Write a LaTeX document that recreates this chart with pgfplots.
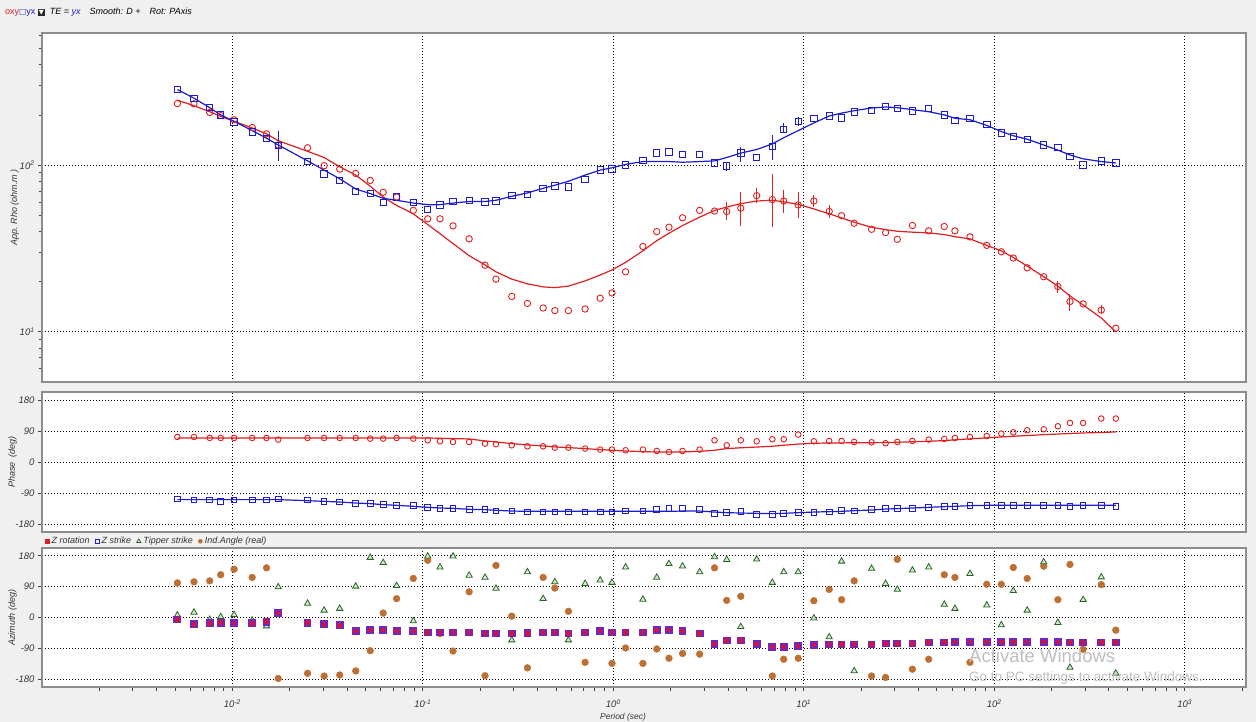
\documentclass[border=0pt]{standalone}
\usepackage{fontspec}
\setmainfont{Liberation Sans}
\newfontfamily\symfont{DejaVu Sans}
\usepackage{pgfplots}
\usepackage{pgfplotstable}
\pgfplotsset{compat=1.18}

\definecolor{xyred}{RGB}{222,32,32}
\definecolor{yxblue}{RGB}{28,28,205}
\definecolor{indbrown}{RGB}{188,112,52}
\definecolor{tipgreen}{RGB}{40,100,40}
\definecolor{tipfill}{RGB}{215,232,210}
\definecolor{zfill}{RGB}{205,20,70}
\definecolor{zedge}{RGB}{105,40,200}
\definecolor{panelgray}{RGB}{240,240,240}
\definecolor{framegray}{RGB}{140,140,140}
\definecolor{wmgray}{RGB}{190,190,190}

% MT sounding: period, app. resistivity (data/model), phase (data/model), azimuths
\pgfplotstableread{
T        rxy   ryx   mxy   myx   pxy    pyx     mpxy  mpyx    zrot tip  ind
5.14e-3  234   284   245   284   72.6   -107.4  69.7  -109.2  -6   7    101
6.28e-3  233   252   227   252   72.6   -110.3  69.7  -109.2  -20  15   104
7.60e-3  207   221   209   221   69.7   -110.3  69.7  -109.2  -17  -6   107
8.68e-3  198   200   196   200   69.7   -114.1  69.7  -109.2  -15  2    125
1.02e-2  187   181   183   183   69.7   -110.3  69.7  -109.2  -16  8    141
1.27e-2  168   158   167   161   69.7   -110.3  69.7  -109.2  -17  -8   117
1.51e-2  154   144   154   145   69.7   -110.3  69.7  -109.2  -12  -25  145
1.74e-2  132   131   140   132   64.9   -107.4  69.7  -109.2  13   89   -178
2.48e-2  127   105   121   106   69.7   -110.3  69.7  -112.2  -15  41   -163
3.03e-2  99.1  88.3  111   93.3  69.7   -114.1  69.7  -114.1  -20  21   -171
3.66e-2  94.6  80.9  97.7  82.7  69.7   -116.1  69.7  -116.1  -23  26   -168
4.44e-2  89.1  69.7  87.1  71.9  69.7   -119.9  69.7  -119.0  -39  91   -156
5.29e-2  80.9  67.8  74.7  67.5  67.8   -119.9  69.7  -120.8  -36  175  -97
6.19e-2  68.7  59.6  64.3  63.2  67.8   -122.8  69.7  -123.7  -36  160  13
7.28e-2  64.3  64.3  57.3  61.5  69.7   -125.7  69.7  -125.7  -39  93   55
8.91e-2  53.5  59.6  51.0  59.2  67.8   -125.7  69.7  -128.6  -40  -10  114
0.106    47.6  54.2  44.0  57.9  63.0   -132.4  69.7  -131.5  -44  179  167
0.123    47.6  57.6  38.8  57.9  60.1   -134.4  68.7  -133.5  -44  147  -47
0.144    43.2  60.4  33.8  59.2  58.1   -135.3  67.8  -134.4  -44  179  -98
0.175    36.1  61.2  28.6  60.5  58.1   -138.2  66.8  -137.3  -44  123  75
0.212    25.1  60.0  25.2  60.5  53.4   -138.2  61.0  -138.2  -47  117  -170
0.242    20.7  60.8  22.9  61.5  51.4   -142.2  58.1  -140.2  -47  85   152
0.293    16.3  65.9  20.7  65.0  48.5   -142.2  53.4  -142.2  -47  -66  4
0.354    14.8  66.6  19.4  68.1  45.6   -145.2  49.5  -143.1  -46  133  -147
0.428    13.9  72.6  18.6  72.6  45.6   -145.2  46.6  -143.1  -44  55   117
0.493    13.4  75.0  18.4  75.7  41.7   -145.2  43.7  -143.1  -44  104  86
0.581    13.4  74.0  18.8  80.0  41.7   -145.2  41.7  -143.1  -47  -66  18
0.711    13.7  82.3  20.2  87.1  38.9   -145.2  38.9  -143.1  -44  99   -131
0.853    15.9  93.3  21.9  93.3  36.0   -145.2  36.0  -143.1  -40  109  -40
0.984    17.1  94.6  23.5  96.3  36.0   -145.2  34.0  -143.1  -44  102  -134
1.16     22.9  100   26.1  101   34.0   -142.2  31.9  -143.1  -44  147  -89
1.43     32.5  107   30.6  105   36.0   -142.2  30.0  -143.1  -44  53   -134
1.69     39.9  118   35.2  105   31.9   -138.2  29.0  -143.1  -37  117  -92
1.96     42.4  120   39.0  105   29.0   -135.3  29.0  -143.1  -37  157  -119
2.31     48.3  116   43.4  104   31.9   -135.3  29.0  -142.2  -40  150  -105
2.84     53.5  116   48.7  105   36.0   -138.2  31.0  -142.2  -47  133  -107
3.40     53.0  103   53.5  106   63.0   -149.8  34.0  -145.2  -77  177  145
3.94     52.7  98.6  56.0  111   48.5   -146.9  38.9  -146.9  -67  169  50
4.67     55.2  118   58.7  118   63.0   -143.1  41.2  -148.0  -67  -27  62
5.66     65.6  111   60.9  124   60.1   -152.7  43.3  -148.9  -77  170  -77
6.84     62.1  129   61.5  134   65.9   -151.8  45.6  -149.8  -86  102  -171
7.85     60.9  163   60.2  146   65.9   -149.8  48.5  -148.9  -86  133  -122
9.35     57.7  183   58.1  161   79.5   -146.9  52.0  -146.9  -83  133  -119
11.3     60.9  191   54.6  179   60.1   -146.9  54.3  -145.2  -80  -2   49
13.6     52.7  197   51.0  197   61.0   -145.2  55.2  -144.0  -79  -57  82
15.8     49.7  192   48.2  205   61.0   -141.1  55.4  -143.1  -79  164  52
18.4     44.8  208   45.4  212   58.1   -142.2  55.7  -141.1  -79  -156 107
22.7     41.2  212   42.4  220   57.2   -137.3  56.0  -139.3  -79  143  -171
26.9     39.4  224   41.0  223   54.3   -135.3  56.3  -136.4  -76  99   -175
31.0     35.9  218   40.1  221   58.1   -135.3  57.2  -135.3  -76  82   170
37.2     43.4  211   39.6  215   61.0   -135.3  58.6  -133.5  -76  138  -151
45.3     40.3  218   39.2  209   65.0   -132.4  60.1  -131.5  -73  147  -122
54.7     42.8  200   38.3  200   66.8   -128.6  62.1  -129.5  -73  38   125
62.2     40.3  185   37.2  191   69.7   -128.6  64.2  -128.6  -71  26   117
74.6     37.1  191   36.1  187   72.6   -125.7  67.1  -126.6  -71  128  -131
91.4     33.0  175   33.0  173   75.5   -125.7  70.0  -125.7  -71  36   97
109      30.2  156   30.6  159   82.4   -125.7  72.6  -125.7  -71  -22  97
126      27.7  148   27.9  150   86.2   -125.7  74.6  -125.7  -71  78   146
149      24.2  142   24.8  143   92.0   -125.7  76.6  -125.7  -71  21   114
182      21.4  132   21.4  132   94.9   -125.7  79.3  -125.7  -71  162  150
216      18.7  128   18.8  123   103.6  -125.7  81.0  -125.7  -71  -15  52
250      15.2  113   16.4  115   113.2  -128.6  82.7  -125.7  -73  -146 155
293      14.7  100   14.5  109   113.2  -125.7  84.2  -125.7  -73  52   -93
365      13.5  106   12.1  105   126.0  -125.7  85.6  -125.7  -73  118  96
435      10.5  103   10.0  103   126.0  -128.6  87.1  -125.7  -73  -163 -37
}\mtdata

% error bars of the resistivity estimates: period, value, plus, minus
\pgfplotstableread{
T      v     ep    em
3.94   52.7  7.3   6.1
4.67   55.2  13.9  12.3
5.66   65.6  7.0   6.7
6.84   62.1  26.0  19.7
7.85   60.9  9.7   9.6
9.35   57.7  11.4  9.8
11.3   60.9  5.0   4.9
13.6   52.7  4.6   4.4
216    18.7  1.5   1.6
250    15.2  1.6   1.9
365    13.5  1.0   0.8
}\errxy
\pgfplotstableread{
T       v     ep    em
1.74e-2 131   29    25
3.94    98.6  6.1   6.2
4.67    118   11    13
6.84    129   23    21
7.85    163   17    7
9.35    183   10    11
}\erryx

\begin{document}
\begin{tikzpicture}
\useasboundingbox (0pt,0pt) rectangle (1256pt,722pt);
\fill[panelgray] (0pt,0pt) rectangle (1256pt,722pt);

% ---------------- apparent resistivity ----------------
\begin{axis}[xmode=log, ymode=log,
  scale only axis, width=1204pt, height=349pt,
  at={(42pt,340pt)}, anchor=south west,
  xmin=1e-3, xmax=2.1e3, ymin=5, ymax=620,
  xtick={1e-2,1e-1,1,10,100,1000}, xticklabels={}, xtick style={draw=none},
  xminorticks=false,
  ytick={10,100}, yticklabels={10\textsuperscript{1},10\textsuperscript{2}},
  minor ytick={6,7,8,9,20,30,40,50,60,70,80,90,200,300,400,500,600},
  axis background/.style={fill=white},
  axis line style={draw=framegray, line width=1.6pt},
  grid=major,
  major grid style={black, line width=0.8pt, dash pattern=on 0.8pt off 2.2pt},
  tick align=outside, ytick pos=left,
  major tick length=4pt, minor tick length=3pt,
  tick style={black!75, line width=0.8pt},
  ticklabel style={font=\itshape\fontsize{9.5}{10}\selectfont, text=black!80},
  ylabel={App. Rho (ohm.m )},
  ylabel style={at={(axis description cs:-0.0225,0.5)}, anchor=center,
    font=\itshape\fontsize{9}{10}\selectfont, text=black!80}]
\addplot[xyred, line width=1.2pt] table[x=T,y=mxy]{\mtdata};
\addplot[yxblue, line width=1.2pt] table[x=T,y=myx]{\mtdata};
\addplot[only marks, mark=o, mark size=3.2pt, xyred, mark options={line width=0.9pt}]
  table[x=T,y=rxy]{\mtdata};
\addplot[only marks, mark=square, mark size=3.2pt, yxblue, mark options={line width=0.9pt}]
  table[x=T,y=ryx]{\mtdata};
\addplot[draw=none, mark=none,
  error bars/.cd, y dir=both, y explicit, error mark=none,
  error bar style={line width=1pt, draw=xyred}]
  table[x=T, y=v, y error plus=ep, y error minus=em]{\errxy};
\addplot[draw=none, mark=none,
  error bars/.cd, y dir=both, y explicit, error mark=none,
  error bar style={line width=1pt, draw=yxblue}]
  table[x=T, y=v, y error plus=ep, y error minus=em]{\erryx};
\end{axis}

% ---------------- phase ----------------
\begin{axis}[xmode=log,
  scale only axis, width=1204pt, height=140pt,
  at={(42pt,190pt)}, anchor=south west,
  xmin=1e-3, xmax=2.1e3, ymin=-203, ymax=203,
  xtick={1e-2,1e-1,1,10,100,1000}, xticklabels={}, xtick style={draw=none},
  xminorticks=false,
  ytick={-180,-90,0,90,180}, yticklabels={-180,-90,0,90,180},
  axis background/.style={fill=white},
  axis line style={draw=framegray, line width=1.6pt},
  grid=major,
  major grid style={black, line width=0.8pt, dash pattern=on 0.8pt off 2.2pt},
  tick align=outside, ytick pos=left,
  major tick length=4pt, minor tick length=3pt,
  tick style={black!75, line width=0.8pt},
  ticklabel style={font=\itshape\fontsize{9.5}{10}\selectfont, text=black!80},
  ylabel={Phase\ \ (deg)},
  ylabel style={at={(axis description cs:-0.0245,0.5)}, anchor=center,
    font=\itshape\fontsize{9}{10}\selectfont, text=black!80}]
\addplot[xyred, line width=1.2pt] table[x=T,y=mpxy]{\mtdata};
\addplot[yxblue, line width=1.2pt] table[x=T,y=mpyx]{\mtdata};
\addplot[only marks, mark=o, mark size=2.8pt, xyred, mark options={line width=0.9pt}]
  table[x=T,y=pxy]{\mtdata};
\addplot[only marks, mark=square, mark size=2.8pt, yxblue, mark options={line width=0.9pt}]
  table[x=T,y=pyx]{\mtdata};
\end{axis}

% ---------------- azimuths ----------------
\begin{axis}[xmode=log,
  scale only axis, width=1204pt, height=139pt,
  at={(42pt,35pt)}, anchor=south west,
  xmin=1e-3, xmax=2.1e3, ymin=-203, ymax=203,
  xtick={1e-2,1e-1,1,10,100,1000},
  xticklabels={10\textsuperscript{-2},10\textsuperscript{-1},10\textsuperscript{0},10\textsuperscript{1},10\textsuperscript{2},10\textsuperscript{3}},
  minor xtick={2e-3,3e-3,4e-3,5e-3,6e-3,7e-3,8e-3,9e-3,
    2e-2,3e-2,4e-2,5e-2,6e-2,7e-2,8e-2,9e-2,
    0.2,0.3,0.4,0.5,0.6,0.7,0.8,0.9,2,3,4,5,6,7,8,9,
    20,30,40,50,60,70,80,90,200,300,400,500,600,700,800,900,2000},
  ytick={-180,-90,0,90,180}, yticklabels={-180,-90,0,90,180},
  axis background/.style={fill=white},
  axis line style={draw=framegray, line width=1.6pt},
  grid=major,
  major grid style={black, line width=0.8pt, dash pattern=on 0.8pt off 2.2pt},
  tick align=outside, ytick pos=left, xtick pos=bottom,
  major tick length=4pt, minor tick length=4pt,
  tick style={black!75, line width=0.8pt},
  ticklabel style={font=\itshape\fontsize{9.5}{10}\selectfont, text=black!80},
  xticklabel style={yshift=-5pt},
  ylabel={Azimuth (deg)},
  ylabel style={at={(axis description cs:-0.0245,0.5)}, anchor=center,
    font=\itshape\fontsize{9}{10}\selectfont, text=black!80},
  xlabel={Period (sec)},
  xlabel style={at={(axis description cs:0.4826,-0.215)}, anchor=center,
    font=\itshape\fontsize{8.5}{9}\selectfont, text=black!80},
  legend style={at={(axis description cs:0.0025,1)}, anchor=south west, yshift=2pt,
    draw=none, fill=none, inner sep=0pt,
    nodes={inner xsep=2.5pt, inner ysep=0.5pt},
    font=\itshape\fontsize{9}{10}\selectfont, text=black!80,
    legend columns=4, /tikz/every even column/.append style={column sep=3pt}},
  legend image code/.code={\draw[mark repeat=2,mark phase=2]
    plot coordinates {(0pt,0pt)(2.5pt,0pt)(5pt,0pt)};},
  legend cell align=left]
\addlegendimage{only marks, mark=square*, mark size=2pt, color=xyred}
\addlegendentry{Z rotation}
\addlegendimage{only marks, mark=square, mark size=2pt, color=yxblue, mark options={line width=0.8pt}}
\addlegendentry{Z strike}
\addlegendimage{only marks, mark=triangle, mark size=2.4pt, color=tipgreen, mark options={line width=0.7pt}}
\addlegendentry{Tipper strike}
\addlegendimage{only marks, mark=*, mark size=2pt, color=indbrown}
\addlegendentry{Ind.Angle (real)}
\addplot[forget plot, only marks, mark=*, mark size=3.4pt, color=indbrown]
  table[x=T,y=ind]{\mtdata};
\addplot[forget plot, only marks, mark=triangle*, mark size=3.6pt,
  mark options={draw=tipgreen, fill=tipfill, line width=0.8pt}] table[x=T,y=tip]{\mtdata};
\addplot[forget plot, only marks, mark=square*, mark size=3.1pt,
  mark options={draw=zedge, fill=zfill, line width=1.6pt}] table[x=T,y=zrot]{\mtdata};
\end{axis}

% header line
\node[anchor=west, inner sep=0pt, font=\fontsize{9}{10}\selectfont] at (5pt,710pt)
  {\textcolor{xyred}{oxy}\textcolor{yxblue}{{\symfont\fontsize{7.5}{8}\selectfont □}yx}\ %
   {\fboxsep=1pt\colorbox{black!85}{\textcolor{white}{\symfont\fontsize{6.5}{6.5}\selectfont ▼}}}\ \ %
   \textit{TE = \textcolor{yxblue}{yx}\quad Smooth: D +\quad Rot: PAxis}};

% system watermark
\node[anchor=west, inner sep=0pt, text=wmgray, font=\fontsize{18.5}{19}\selectfont] at (969pt,66pt) {Activate Windows};
\node[anchor=west, inner sep=0pt, text=wmgray, font=\fontsize{13.5}{14}\selectfont] at (969pt,44pt) {Go to PC settings to activate Windows.};
\end{tikzpicture}
\end{document}
